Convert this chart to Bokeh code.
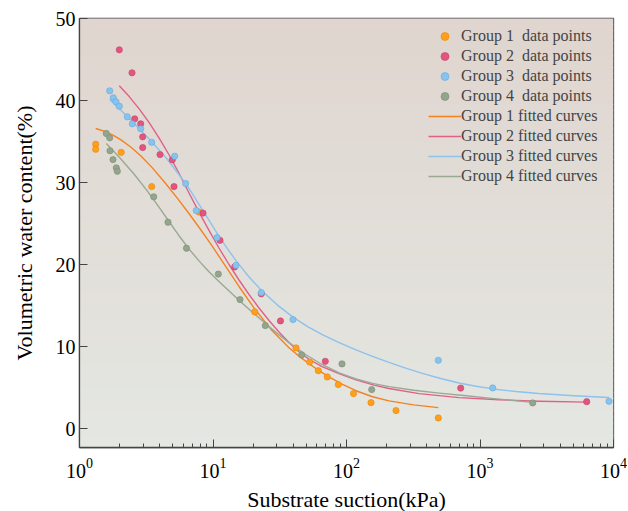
import numpy as np
from bokeh.plotting import figure
from bokeh.models import Range1d, LogTicker, FixedTicker, Legend, LegendItem, BoxAnnotation
from bokeh.embed import file_html
from bokeh.resources import INLINE

# ---------------- data ----------------
# Group 1 data points
g1_x = [1.322, 1.322, 2.053, 3.474, 7.856, 20.56, 41.85, 53.0, 61.5, 71.8, 86.8, 112.8, 152.6, 234.9, 487.0]
g1_y = [34.67, 34.06, 33.68, 29.51, 26.40, 14.23, 9.84, 8.11, 7.07, 6.30, 5.37, 4.27, 3.17, 2.20, 1.30]
# Group 2 data points
g2_x = [1.987, 2.474, 2.592, 2.873, 2.974, 2.974, 4.009, 4.956, 5.104, 8.417, 11.28, 14.54, 23.0, 32.03, 69.37, 716.9, 6300.0]
g2_y = [46.18, 43.38, 37.77, 37.16, 35.57, 34.27, 33.41, 32.77, 29.51, 26.28, 22.96, 19.72, 16.43, 13.13, 8.21, 4.94, 3.29]
# Group 3 data points
g3_x = [1.684, 1.792, 1.876, 1.987, 2.281, 2.486, 2.873, 3.474, 5.165, 6.245, 7.497, 10.71, 14.87, 23.0, 39.74, 487.0, 1245.0, 9253.0]
g3_y = [41.18, 40.33, 39.84, 39.30, 38.01, 37.16, 36.55, 34.91, 33.21, 29.88, 26.59, 23.29, 19.91, 16.59, 13.29, 8.33, 4.96, 3.33]
# Group 4 data points
g4_x = [1.587, 1.683, 1.692, 1.782, 1.887, 1.920, 3.596, 4.602, 6.332, 10.96, 15.93, 24.65, 46.17, 92.5, 154.5, 2482.0]
g4_y = [35.98, 35.45, 33.87, 32.80, 31.79, 31.38, 28.26, 25.16, 21.99, 18.84, 15.73, 12.56, 8.99, 7.89, 4.76, 3.13]

# Fitted curves
c1_x = [1.322, 1.526, 1.782, 2.046, 2.431, 2.889, 3.474, 4.295, 5.403, 6.497, 7.854, 9.746, 12.09, 15.66,
        20.64, 27.66, 37.09, 44.08, 52.37, 62.23, 73.94, 93.33, 117.8, 156.6, 208.2, 318.1, 487.0]
c1_y = [36.59, 36.27, 35.77, 35.20, 34.30, 33.23, 31.88, 30.13, 28.10, 26.38, 24.55, 22.38, 20.09, 17.33,
        14.55, 11.95, 9.87, 8.84, 7.91, 7.07, 6.30, 5.39, 4.62, 3.89, 3.38, 2.90, 2.56]
c2_x = [1.986, 2.349, 2.790, 3.316, 3.940, 4.682, 5.563, 6.610, 7.854, 9.333, 11.09, 13.18, 15.66, 18.61,
        22.12, 26.27, 31.22, 37.09, 44.08, 52.37, 65.53, 87.86, 117.8, 160.7, 208.2, 349.2, 696.1, 1388.0,
        2766.0, 6300.0]
c2_y = [41.79, 40.51, 39.01, 37.33, 35.45, 33.39, 31.13, 28.73, 26.39, 24.16, 22.02, 20.01, 18.12, 16.35,
        14.71, 13.18, 11.78, 10.50, 9.38, 8.46, 7.57, 6.71, 5.95, 5.30, 4.89, 4.27, 3.78, 3.52, 3.34, 3.23]
c3_x = [1.684, 1.988, 2.349, 2.856, 3.474, 4.547, 6.065, 6.903, 7.854, 9.171, 10.71, 12.62, 14.87, 18.49,
        23.00, 30.24, 39.74, 51.17, 65.87, 88.09, 117.8, 156.6, 208.2, 277.4, 369.6, 507.3, 696.1, 933.3,
        1252.0, 1861.0, 2766.0, 5060.0, 9254.0]
c3_y = [40.12, 38.99, 37.83, 36.43, 34.98, 32.84, 30.16, 28.79, 27.35, 25.59, 23.84, 22.09, 20.48, 18.55,
        16.88, 15.09, 13.60, 12.44, 11.45, 10.48, 9.60, 8.82, 8.07, 7.38, 6.73, 6.11, 5.57, 5.16,
        4.84, 4.52, 4.28, 4.01, 3.80]
c4_x = [1.587, 2.011, 2.559, 3.176, 3.940, 4.682, 5.563, 6.610, 7.854, 9.333, 11.09, 13.76, 17.07, 21.18,
        26.27, 31.22, 37.09, 49.31, 65.53, 87.87, 117.8, 156.6, 208.2, 320.3, 493.1, 758.7, 1168.0, 2482.0]
c4_y = [34.76, 33.00, 31.04, 29.11, 27.00, 25.25, 23.52, 21.90, 20.45, 19.13, 17.93, 16.50, 15.11, 13.76,
        12.44, 11.43, 10.49, 9.04, 7.82, 6.80, 6.05, 5.51, 5.12, 4.68, 4.33, 4.04, 3.72, 3.20]

y_ticks = [0, 10, 20, 30, 40, 50]

point_labels = ["Group 1  data points", "Group 2  data points", "Group 3  data points", "Group 4  data points"]
curve_labels = ["Group 1 fitted curves", "Group 2 fitted curves", "Group 3 fitted curves", "Group 4 fitted curves"]

point_colors = ["#ff9f1c", "#e2557f", "#86c3ee", "#93a58c"]
point_edges = ["#e8870a", "#c9426b", "#6aa9d8", "#7b8f74"]
curve_colors = ["#f5821f", "#e0608a", "#8cc2ec", "#9aa992"]

FONT = "Liberation Serif"

# ---------------- figure ----------------
p = figure(x_axis_type="log", x_range=Range1d(1, 10000), y_range=Range1d(-2.3, 50),
           frame_width=534, frame_height=429,
           min_border_left=79, min_border_right=14, min_border_top=18, min_border_bottom=62,
           output_backend="svg", toolbar_location=None)

p.background_fill_color = "#e2ddd8"
p.border_fill_color = "white"
p.outline_line_color = "#444444"
p.outline_line_width = 1.3
p.grid.visible = False

# vertical gradient background (pink-beige at top to grey-green at bottom)
top_rgb = np.array([224, 213, 207])
bot_rgb = np.array([228, 231, 226])
n_bands = 70
edges = np.linspace(-2.3, 50, n_bands + 1)
for i in range(n_bands):
    t = (i + 0.5) / n_bands
    c = bot_rgb + (top_rgb - bot_rgb) * t
    col = "#%02x%02x%02x" % tuple(int(round(v)) for v in c)
    p.add_layout(BoxAnnotation(bottom=edges[i] - 0.05, top=edges[i + 1] + 0.05,
                               fill_color=col, fill_alpha=1.0,
                               line_color=None, line_alpha=0, level="underlay"))

# curves
curves = [(c1_x, c1_y), (c2_x, c2_y), (c3_x, c3_y), (c4_x, c4_y)]
curve_renderers = []
for (cx, cy), col in zip(curves, curve_colors):
    r = p.line(cx, cy, line_color=col, line_width=1.4, line_join="round")
    curve_renderers.append(r)

# points
pts = [(g1_x, g1_y), (g2_x, g2_y), (g3_x, g3_y), (g4_x, g4_y)]
point_renderers = []
for (px, py), col, ec in zip(pts, point_colors, point_edges):
    r = p.scatter(px, py, marker="circle", size=6.3, fill_color=col,
                  line_color=ec, line_width=0.6)
    point_renderers.append(r)

# axes
for ax in (p.xaxis, p.yaxis):
    ax.axis_line_color = "#444444"
    ax.axis_line_width = 1.3
    ax.major_tick_line_color = "#444444"
    ax.minor_tick_line_color = "#444444"
    ax.major_tick_in = 8
    ax.major_tick_out = 0
    ax.minor_tick_in = 4
    ax.minor_tick_out = 0
    ax.major_label_text_font = FONT
    ax.major_label_text_font_size = "20px"
    ax.major_label_text_color = "black"
    ax.axis_label_text_font = FONT
    ax.axis_label_text_font_size = "22px"
    ax.axis_label_text_font_style = "normal"
    ax.axis_label_text_color = "black"

p.xaxis.ticker = LogTicker(mantissas=[1], num_minor_ticks=10)
p.yaxis.ticker = FixedTicker(ticks=y_ticks)
p.yaxis.minor_tick_line_color = None
p.xaxis.major_label_standoff = 10
p.yaxis.major_label_standoff = 4
p.xaxis.axis_label = "Substrate suction(kPa)"
p.yaxis.axis_label = "Volumetric water content(%)"
p.xaxis.axis_label_standoff = 6
p.yaxis.axis_label_standoff = 16

# legend
items = [LegendItem(label=lab, renderers=[r]) for lab, r in zip(point_labels, point_renderers)]
items += [LegendItem(label=lab, renderers=[r]) for lab, r in zip(curve_labels, curve_renderers)]
legend = Legend(items=items, location=(349, 261), padding=0, margin=0, spacing=0,
                glyph_width=33, glyph_height=20, label_height=20, label_standoff=0,
                label_text_font=FONT, label_text_font_size="16px",
                border_line_color=None, background_fill_alpha=0)
p.add_layout(legend, "center")

open("out.html", "w").write(file_html(p, INLINE))
